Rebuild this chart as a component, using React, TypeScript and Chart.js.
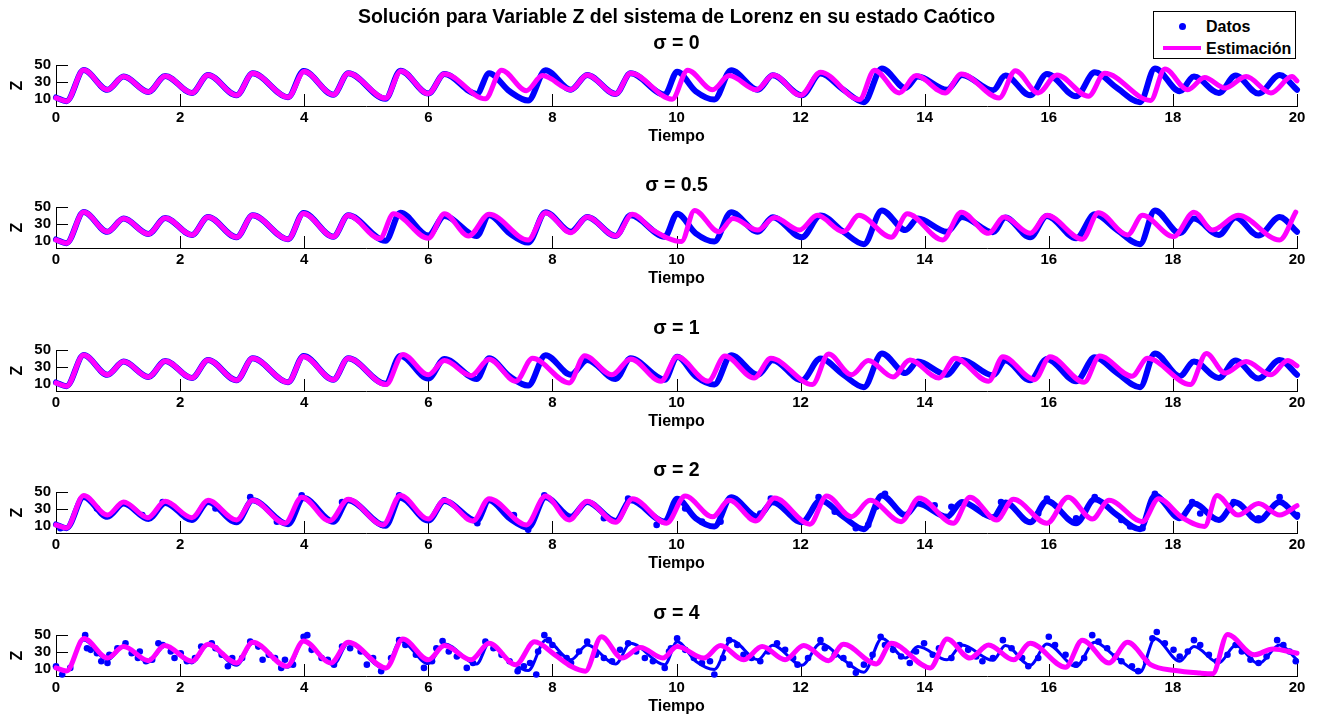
import React, { useEffect, useRef } from "react";
import { Chart, registerables } from "chart.js";

Chart.register(...registerables);
Chart.defaults.font.family = "'Liberation Sans', Arial, Helvetica, sans-serif";

// ---------------- DATA ----------------
const mainTitle = "Solución para Variable Z del sistema de Lorenz en su estado Caótico";
const sigmaLabels = ["σ = 0", "σ = 0.5", "σ = 1", "σ = 2", "σ = 4"];
const tiempoTicks = [0, 2, 4, 6, 8, 10, 12, 14, 16, 18, 20];
const zTicks = [10, 30, 50];

// Datos: Lorenz Z (key points: troughs / peaks)
const datosLorenz: number[][] = [
  [0, 12], [0.17, 7.7], [0.446, 44], [0.83, 21], [1.09, 36.4], [1.49, 18.4], [1.76, 37.2],
  [2.19, 17.3], [2.45, 38.3], [2.91, 14.6], [3.17, 40.2], [3.74, 12.3], [3.99, 42.9],
  [4.47, 15.3], [4.71, 40.2], [5.31, 10.4], [5.55, 43.3], [6.0, 16.5], [6.26, 39.5],
  [6.78, 16.1], [6.98, 40.2], [7.31, 19.2], [7.61, 8.4], [7.89, 44], [8.3, 21.1], [8.56, 38.3],
  [9.02, 16.1], [9.26, 40.2], [9.81, 15.3], [10.01, 42], [10.31, 19.2], [10.61, 9.6], [10.88, 44],
  [11.31, 21], [11.55, 38], [12.02, 14.6], [12.32, 40], [12.69, 21], [13.02, 6.5], [13.31, 46],
  [13.69, 23], [13.89, 36.4], [14.36, 21], [14.6, 38.3], [15.1, 20.3], [15.3, 37.6],
  [15.7, 14.6], [15.97, 39.5], [16.44, 13.4], [16.74, 41.4], [17.1, 23], [17.47, 6.5], [17.71, 46],
  [18.11, 19.2], [18.34, 36.4], [18.74, 17.3], [19.01, 37.6], [19.38, 16.5], [19.72, 38.3],
  [20, 21],
];

// Estimación for each sigma
const estSigma0: number[][] = [
  [0, 11.5], [0.17, 7.7], [0.446, 44], [0.83, 21], [1.09, 36.4], [1.49, 18.4], [1.76, 37.2],
  [2.19, 17.3], [2.45, 38.3], [2.91, 14.6], [3.17, 40.2], [3.74, 12.3], [4.0, 42.5],
  [4.47, 15.3], [4.71, 40.2], [5.31, 11], [5.56, 43], [6.0, 16.5], [6.26, 39.5],
  [6.92, 10.4], [7.18, 44], [7.58, 20], [7.84, 37.6], [8.3, 21.1], [8.56, 38.3], [9.02, 16.1],
  [9.26, 40.2], [9.93, 10], [10.18, 44], [10.58, 21], [10.85, 37.6], [11.29, 21], [11.56, 38.3],
  [12.0, 14.6], [12.32, 41.4], [12.95, 9.6], [13.19, 44], [13.59, 17.3], [13.86, 37.6],
  [14.33, 17.3], [14.59, 39.5], [15.2, 11.5], [15.46, 43.3], [15.83, 17.3], [16.13, 38.3],
  [16.64, 13.4], [16.9, 40.2], [17.64, 8.4], [17.87, 45.2], [18.24, 21], [18.51, 35.3],
  [18.84, 23], [19.18, 36.4], [19.58, 17.3], [19.92, 36.4], [20, 31.4],
];
const estSigma05: number[][] = [
  [0, 11.5], [0.17, 7.7], [0.446, 44], [0.83, 21], [1.09, 36.4], [1.49, 18.4], [1.76, 37.2],
  [2.19, 17.3], [2.45, 38.3], [2.91, 14.6], [3.17, 40.2], [3.74, 12.3], [3.99, 42.5],
  [4.47, 15.3], [4.71, 40.2], [5.22, 13], [5.44, 42], [6.0, 13.4], [6.26, 42], [6.65, 16.1],
  [6.98, 41.4], [7.61, 11.5], [7.89, 43.3], [8.3, 20], [8.56, 38.3], [9.02, 16.1], [9.29, 41.4],
  [9.62, 23], [10.08, 9.5], [10.29, 46], [10.68, 21], [10.91, 36.4], [11.31, 23], [11.58, 37.6],
  [11.98, 23], [12.27, 40.2], [12.69, 21], [12.94, 40.2], [13.46, 14.6], [13.72, 42],
  [14.29, 11.5], [14.59, 44], [15.03, 19.2], [15.28, 38.3], [15.7, 19.2], [15.97, 40.2],
  [16.54, 12.3], [16.8, 43.3], [17.27, 17.3], [17.51, 40.2], [18.01, 15.3], [18.34, 44],
  [18.64, 23], [19.05, 40.2], [19.72, 11.5], [19.98, 44],
];
const estSigma1: number[][] = [
  [0, 11.5], [0.17, 7.7], [0.446, 44], [0.83, 21], [1.09, 36.4], [1.49, 18.4], [1.76, 37.2],
  [2.19, 17.3], [2.45, 38.3], [2.91, 14.6], [3.17, 40.2], [3.74, 12.3], [3.99, 42.5],
  [4.47, 15.3], [4.71, 40.2], [5.32, 9.6], [5.59, 44.8], [6.0, 21], [6.26, 37.6], [6.69, 20],
  [6.98, 39.1], [7.41, 13.4], [7.68, 40.2], [8.27, 11.5], [8.52, 43.3], [8.96, 21], [9.26, 39.5],
  [9.75, 13.4], [10.01, 42], [10.51, 13.4], [10.78, 42.9], [11.25, 17.3], [11.52, 40.2],
  [12.19, 9.6], [12.45, 45.2], [12.82, 21], [13.09, 37.6], [13.49, 18.4], [13.76, 38.3],
  [14.23, 17.3], [14.49, 40.2], [15.03, 13.4], [15.26, 42], [15.77, 15.3], [16.02, 42],
  [16.57, 12.3], [16.82, 42.9], [17.34, 19.2], [17.59, 40.2], [18.28, 9.6], [18.54, 46],
  [18.84, 23], [19.18, 36.4], [19.58, 21], [19.85, 37.6], [20, 31.4],
];
const estSigma2: number[][] = [
  [0, 11.5], [0.17, 8], [0.446, 46], [0.83, 23], [1.09, 38.3], [1.48, 20], [1.76, 39.1],
  [2.19, 20], [2.45, 40.2], [2.91, 17.3], [3.17, 40.2], [3.69, 13.4], [3.96, 44], [4.41, 16.1],
  [4.71, 41.4], [5.27, 11.5], [5.55, 46], [6.0, 18.4], [6.26, 40.2], [6.72, 16.1], [6.98, 42.2],
  [7.58, 11.5], [7.89, 45.2], [8.27, 17.3], [8.56, 39.1], [9.02, 14.6], [9.29, 42], [9.84, 13.4],
  [10.14, 45.2], [10.58, 21], [10.85, 40.2], [11.28, 16.1], [11.58, 42.9], [12.15, 12.3],
  [12.42, 45.2], [12.82, 21], [13.12, 40.2], [13.62, 15.3], [13.91, 42.9], [14.46, 13.4],
  [14.73, 44], [15.16, 17.3], [15.43, 41.4], [15.97, 13.4], [16.31, 44], [16.7, 18.4],
  [16.97, 40.2], [17.51, 15.3], [17.77, 42], [18.15, 20], [18.51, 9.6], [18.71, 46], [19.05, 23],
  [19.38, 36.4], [19.72, 23], [20, 34],
];
const estSigma4: number[][] = [
  [0, 11.5], [0.17, 8], [0.45, 46], [0.83, 23], [1.09, 36.4], [1.49, 20], [1.75, 37.6],
  [2.19, 19.2], [2.45, 39.1], [2.91, 17.3], [3.17, 41.4], [3.72, 13.4], [3.99, 42.9],
  [4.43, 17.3], [4.71, 41.4], [5.32, 11.5], [5.59, 45.2], [6.0, 21], [6.26, 37.6], [6.69, 21],
  [6.98, 40.2], [7.41, 15.3], [7.71, 42], [8.04, 26.8], [8.3, 13.4], [8.53, 7.7], [8.79, 47.9],
  [9.12, 23], [9.42, 35.3], [9.78, 23], [10.01, 36.4], [10.44, 23], [10.71, 37.6], [11.08, 21],
  [11.38, 36.4], [11.75, 21], [12.05, 37.6], [12.45, 20], [12.69, 39.1], [13.22, 16.1],
  [13.46, 40.2], [14.09, 11.5], [14.36, 45.2], [14.73, 23], [15.03, 38.3], [15.43, 21],
  [15.7, 40.2], [16.27, 12.3], [16.54, 44], [16.97, 17.3], [17.27, 41.4], [17.64, 15.3],
  [18.04, 8.4], [18.44, 5.4], [18.64, 4.6], [18.88, 50.6], [19.31, 26.8], [19.61, 33.7],
  [20, 28.7],
];

// Noisy data dots (sigma = 2)
const ruidoSigma2: number[][] = [
  [0.07, 7.7], [0.66, 30.7], [1.39, 23], [1.72, 38.3], [2.57, 30.7], [3.13, 44], [3.56, 15.3],
  [3.96, 46], [4.61, 38.3], [5.27, 11.5], [5.53, 46], [6.26, 40.2], [6.79, 13.4], [7.38, 23],
  [7.61, 5.8], [7.87, 46], [8.83, 19.2], [9.22, 42.2], [9.68, 11.5], [10.14, 30.7], [10.41, 15.3],
  [10.71, 15.3], [11.35, 24.9], [11.52, 42.2], [12.29, 44], [12.55, 26.8], [12.89, 7.7],
  [13.09, 11.5], [13.22, 32.6], [13.36, 47.9], [13.69, 23], [14.16, 34.5], [14.43, 32.6],
  [14.96, 24.9], [15.23, 38.3], [15.83, 24.9], [15.97, 42.2], [16.44, 19.2], [16.74, 44],
  [17.17, 17.3], [17.31, 9.6], [17.51, 7.7], [17.71, 47.9], [18.31, 38.3], [18.44, 24.9],
  [18.98, 38.3], [19.38, 19.2], [19.72, 44], [20, 23],
];

// Noisy data dots (sigma = 4)
const ruidoSigma4: number[][] = [
  [0.0, 13.4], [0.1, 3.8], [0.23, 11.5], [0.47, 49.8], [0.5, 34.5], [0.56, 32.6], [0.66, 28.7],
  [0.73, 19.2], [0.83, 17.3], [0.86, 26.8], [0.99, 34.5], [1.12, 40.2], [1.22, 28.7], [1.32, 23],
  [1.35, 30.7], [1.45, 19.2], [1.55, 21], [1.65, 40.2], [1.72, 38.3], [1.85, 30.7], [1.91, 23],
  [2.01, 28.7], [2.11, 19.2], [2.24, 23], [2.34, 36.4], [2.51, 40.2], [2.57, 34.5], [2.67, 26.8],
  [2.77, 13.4], [2.84, 23], [3.0, 23], [3.13, 42.2], [3.26, 36.4], [3.33, 21.1], [3.43, 26.8],
  [3.53, 23], [3.63, 11.5], [3.69, 21], [3.82, 15.3], [3.99, 47.9], [4.05, 49.8], [4.12, 32.6],
  [4.28, 23], [4.38, 21], [4.48, 15.3], [4.61, 36.4], [4.74, 34.5], [4.91, 30.7], [5.01, 15.3],
  [5.11, 23], [5.24, 7.7], [5.4, 23], [5.53, 44], [5.63, 38.3], [5.8, 26.8], [5.93, 11.5],
  [6.06, 19.2], [6.13, 34.5], [6.23, 42.9], [6.33, 30.7], [6.46, 24.9], [6.62, 11.5],
  [6.72, 17.3], [6.92, 42.2], [7.05, 34.5], [7.18, 26.8], [7.31, 19.2], [7.44, 7.7],
  [7.54, 13.4], [7.64, 17.3], [7.74, 3.8], [7.77, 30.7], [7.87, 49.8], [7.94, 44], [8.0, 38.3],
  [8.1, 26.8], [8.23, 23], [8.3, 17.3], [8.43, 30.7], [8.56, 42.2], [8.7, 26.8], [8.83, 23],
  [8.96, 19.2], [9.09, 32.6], [9.22, 40.2], [9.35, 30.7], [9.49, 23], [9.62, 19.2], [9.81, 11.5],
  [9.88, 30.7], [9.91, 34.5], [10.01, 46], [10.14, 32.6], [10.28, 23], [10.41, 17.3],
  [10.54, 19.2], [10.61, 3.8], [10.75, 23], [10.85, 44], [10.98, 38.3], [11.08, 26.8],
  [11.21, 23], [11.35, 19.2], [11.48, 30.7], [11.62, 40.2], [11.75, 32.6], [11.88, 23],
  [11.95, 15.3], [12.12, 23], [12.32, 44], [12.39, 34.5], [12.55, 26.8], [12.69, 23],
  [12.79, 15.3], [12.89, 5.8], [13.02, 15.3], [13.16, 26.8], [13.29, 47.9], [13.36, 38.3],
  [13.49, 32.6], [13.62, 24.9], [13.76, 17.3], [13.86, 30.7], [13.99, 40.2], [14.13, 26.8],
  [14.23, 34.5], [14.43, 23], [14.56, 38.3], [14.7, 32.6], [14.83, 24.9], [14.93, 19.2],
  [15.1, 23], [15.26, 44], [15.4, 34.5], [15.57, 23], [15.67, 13.4], [15.83, 23], [16.0, 47.9],
  [16.1, 38.3], [16.27, 26.8], [16.44, 15.3], [16.57, 23], [16.7, 49.8], [16.8, 42.2],
  [16.94, 34.5], [17.07, 24.9], [17.17, 19.2], [17.34, 13.4], [17.44, 7.7], [17.57, 19.2],
  [17.67, 46], [17.74, 53.6], [17.87, 40.2], [18.01, 32.6], [18.11, 24.9], [18.24, 30.7],
  [18.34, 44], [18.44, 38.3], [18.58, 26.8], [18.71, 19.2], [18.88, 26.8], [19.01, 38.3],
  [19.11, 30.7], [19.25, 21], [19.38, 17.3], [19.51, 24.9], [19.68, 44], [19.78, 38.3],
  [19.88, 30.7], [19.98, 19.2],
];

const estimaciones = [estSigma0, estSigma05, estSigma1, estSigma2, estSigma4];
const ruidos: (number[][] | null)[] = [null, null, null, ruidoSigma2, ruidoSigma4];

// ---------------- LAYOUT ----------------
const W = 1318;
const plotTops = [65, 207, 350, 492, 635];
const PLOT_H = 41;
const AXIS_H = 50;
const BLUE = "#0000ff";
const MAGENTA = "#ff00ff";

const innerTicks = {
  id: "innerTicks",
  beforeDatasetsDraw(chart: any) {
    const { ctx, chartArea, scales } = chart;
    ctx.save();
    ctx.strokeStyle = "#000";
    ctx.lineWidth = 1;
    ctx.beginPath();
    for (const v of tiempoTicks) {
      const px = Math.round(scales.x.getPixelForValue(v)) + 0.5;
      ctx.moveTo(px, chartArea.bottom);
      ctx.lineTo(px, chartArea.bottom - 12);
    }
    for (const v of zTicks) {
      const py = Math.round(scales.y.getPixelForValue(v)) + 0.5;
      ctx.moveTo(chartArea.left, py);
      ctx.lineTo(chartArea.left + 12, py);
    }
    ctx.stroke();
    ctx.restore();
  },
};

function Panel({ idx }: { idx: number }) {
  const ref = useRef<HTMLCanvasElement | null>(null);
  const headH = idx === 0 ? 65 : 40;
  const canvasTop = plotTops[idx] - headH;
  const canvasH = headH + PLOT_H + AXIS_H;

  useEffect(() => {
    const toXY = (arr: number[][]) => arr.map((p) => ({ x: p[0], y: p[1] }));
    const datasets: any[] = [
      {
        label: "Estimación",
        data: toXY(estimaciones[idx]),
        borderColor: MAGENTA,
        backgroundColor: MAGENTA,
        borderWidth: 5,
        pointRadius: 0,
        cubicInterpolationMode: "monotone",
        borderCapStyle: "round",
        borderJoinStyle: "round",
        clip: 8,
        order: 0,
      },
    ];
    const noisy = ruidos[idx];
    if (noisy) {
      datasets.push({
        label: "Datos ruido",
        data: toXY(noisy),
        showLine: false,
        borderColor: BLUE,
        backgroundColor: BLUE,
        pointRadius: 3.3,
        pointBorderWidth: 0,
        clip: 8,
        order: 1,
      });
    }
    datasets.push({
      label: "Datos",
      data: toXY(datosLorenz),
      borderColor: BLUE,
      backgroundColor: BLUE,
      borderWidth: idx === 4 ? 3 : 6,
      pointRadius: 0,
      cubicInterpolationMode: "monotone",
      borderCapStyle: "round",
      borderJoinStyle: "round",
      clip: 8,
      order: 2,
    });

    const titleFont = { size: 19.5, weight: "bold" as const };
    const plugins: any = {
      legend: { display: false },
      tooltip: { enabled: false },
    };
    if (idx === 0) {
      plugins.title = {
        display: true,
        text: mainTitle,
        color: "#000",
        font: titleFont,
        fullSize: false,
        padding: { top: 6, bottom: 0 },
      };
      plugins.subtitle = {
        display: true,
        text: sigmaLabels[0],
        color: "#000",
        font: titleFont,
        fullSize: false,
        padding: { top: 2.9, bottom: 9.3 },
      };
    } else {
      plugins.title = {
        display: true,
        text: sigmaLabels[idx],
        color: "#000",
        font: titleFont,
        fullSize: false,
        padding: { top: 6.5, bottom: 10.1 },
      };
    }

    const chart = new Chart(ref.current as HTMLCanvasElement, {
      type: "line",
      data: { datasets },
      options: {
        animation: false,
        responsive: false,
        events: [],
        layout: { padding: { left: 0, right: 21, top: 0, bottom: 0 } },
        plugins,
        scales: {
          x: {
            type: "linear",
            min: 0,
            max: 20,
            afterBuildTicks: (s: any) => {
              s.ticks = tiempoTicks.map((v) => ({ value: v }));
            },
            afterFit: (s: any) => {
              s.height = AXIS_H;
            },
            grid: { display: false, drawTicks: false, tickLength: 0 },
            border: { display: true, color: "#000", width: 1 },
            ticks: {
              color: "#000",
              font: { size: 15, weight: "bold" },
              padding: 3,
              maxRotation: 0,
              autoSkip: false,
            },
            title: {
              display: true,
              text: "Tiempo",
              color: "#000",
              font: { size: 16, weight: "bold" },
              padding: { top: 0, bottom: 9.4 },
            },
          },
          y: {
            type: "linear",
            min: 2,
            max: 50,
            afterBuildTicks: (s: any) => {
              s.ticks = zTicks.map((v) => ({ value: v }));
            },
            afterFit: (s: any) => {
              s.width = 56;
            },
            grid: { display: false, drawTicks: false, tickLength: 0 },
            border: { display: true, color: "#000", width: 1 },
            ticks: {
              color: "#000",
              font: { size: 15, weight: "bold" },
              padding: 5,
              autoSkip: false,
            },
            title: {
              display: true,
              text: "Z",
              color: "#000",
              font: { size: 16, weight: "bold" },
              padding: { top: 8, bottom: 0 },
            },
          },
        },
      } as any,
      plugins: [innerTicks],
    });
    return () => chart.destroy();
  }, [idx]);

  return (
    <canvas
      ref={ref}
      width={W}
      height={canvasH}
      style={{ position: "absolute", left: 0, top: canvasTop, width: W, height: canvasH }}
    />
  );
}

function Legend() {
  const font = "'Liberation Sans', Arial, Helvetica, sans-serif";
  return (
    <div
      style={{
        position: "absolute",
        left: 1153,
        top: 11,
        width: 141,
        height: 46,
        border: "1px solid #000",
        background: "#fff",
        fontFamily: font,
        fontWeight: "bold",
        fontSize: 16,
        color: "#000",
        zIndex: 2,
      }}
    >
      <div
        style={{
          position: "absolute",
          left: 25,
          top: 10.5,
          width: 7,
          height: 7,
          borderRadius: "50%",
          background: BLUE,
        }}
      />
      <div style={{ position: "absolute", left: 52, top: 5, lineHeight: "19px", whiteSpace: "nowrap" }}>Datos</div>
      <div
        style={{
          position: "absolute",
          left: 9,
          top: 34,
          width: 38,
          height: 4,
          background: MAGENTA,
        }}
      />
      <div style={{ position: "absolute", left: 52, top: 26.5, lineHeight: "19px", whiteSpace: "nowrap" }}>
        Estimación
      </div>
    </div>
  );
}

export default function App() {
  return (
    <div
      style={{
        position: "fixed",
        left: 0,
        top: 0,
        width: W,
        height: 719,
        background: "#fff",
        overflow: "hidden",
      }}
    >
      {[0, 1, 2, 3, 4].map((i) => (
        <Panel key={i} idx={i} />
      ))}
      <Legend />
    </div>
  );
}
